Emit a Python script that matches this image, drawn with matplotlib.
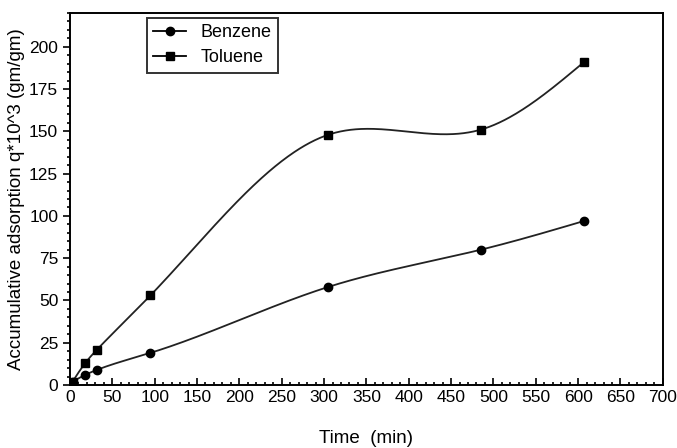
import numpy as np
import matplotlib
matplotlib.use("Agg")
import matplotlib.pyplot as plt
from matplotlib.ticker import MultipleLocator
from matplotlib.lines import Line2D

plt.rcParams["font.family"] = ["Liberation Sans", "DejaVu Sans"]

# === DATA ===
time_benzene = [3, 18, 32, 95, 305, 485, 607]
q_benzene = [2, 6, 9, 19, 58, 80, 97]
time_toluene = [3, 18, 32, 95, 305, 485, 607]
q_toluene = [2, 13, 21, 53, 148, 151, 191]


def natural_spline(x, y, n=400):
    # plain natural cubic spline, just to draw the smooth connecting curve
    x = np.asarray(x, float)
    y = np.asarray(y, float)
    k = len(x)
    h = np.diff(x)
    A = np.zeros((k, k))
    b = np.zeros(k)
    A[0, 0] = A[-1, -1] = 1
    for i in range(1, k - 1):
        A[i, i - 1] = h[i - 1]
        A[i, i] = 2 * (h[i - 1] + h[i])
        A[i, i + 1] = h[i]
        b[i] = 3 * ((y[i + 1] - y[i]) / h[i] - (y[i] - y[i - 1]) / h[i - 1])
    c = np.linalg.solve(A, b)
    xs = np.linspace(x[0], x[-1], n)
    idx = np.clip(np.searchsorted(x, xs) - 1, 0, k - 2)
    dx = xs - x[idx]
    bb = (y[idx + 1] - y[idx]) / h[idx] - h[idx] * (2 * c[idx] + c[idx + 1]) / 3
    dd = (c[idx + 1] - c[idx]) / (3 * h[idx])
    ys = y[idx] + bb * dx + c[idx] * dx ** 2 + dd * dx ** 3
    return xs, ys


fig = plt.figure(figsize=(6.77, 4.48), dpi=100)
ax = fig.add_axes([0.1034, 0.1406, 0.8756, 0.8304])

xs, ys = natural_spline(time_benzene, q_benzene)
ax.plot(xs, ys, color="#222222", lw=1.3)
ax.plot(time_benzene, q_benzene, "o", color="black", ms=6)

xs, ys = natural_spline(time_toluene, q_toluene)
ax.plot(xs, ys, color="#222222", lw=1.3)
ax.plot(time_toluene, q_toluene, "s", color="black", ms=6)

# legend handles: line + marker like the original
handles = [
    Line2D([], [], color="black", marker="o", ms=6, lw=1.3),
    Line2D([], [], color="black", marker="s", ms=6, lw=1.3),
]
leg = ax.legend(handles, ["Benzene", "Toluene"], loc="upper left",
                bbox_to_anchor=(0.13, 0.987), borderaxespad=0, frameon=True,
                fancybox=False, edgecolor="black", fontsize=13,
                handlelength=1.8, borderpad=0.35, labelspacing=0.45)
leg.get_frame().set_linewidth(1.4)

ax.set_xlim(0, 700)
ax.set_ylim(0, 220)
ax.xaxis.set_major_locator(MultipleLocator(50))
ax.xaxis.set_minor_locator(MultipleLocator(10))
ax.yaxis.set_minor_locator(MultipleLocator(5))
ax.set_yticks([0, 25, 50, 75, 100, 125, 150, 175, 200])
ax.tick_params(axis="x", which="both", direction="in", labelsize=12.5, width=1.2)
ax.tick_params(axis="y", which="both", direction="out", labelsize=12.5, width=1.2)
ax.tick_params(which="major", length=5)
ax.tick_params(which="minor", length=2.5)

for s in ax.spines.values():
    s.set_linewidth(1.4)

ax.set_xlabel("Time  (min)", fontsize=13.5, labelpad=18)
ax.set_ylabel("Accumulative adsorption q*10^3 (gm/gm)", fontsize=13.5, labelpad=3)

fig.savefig("out.png", dpi=100)
